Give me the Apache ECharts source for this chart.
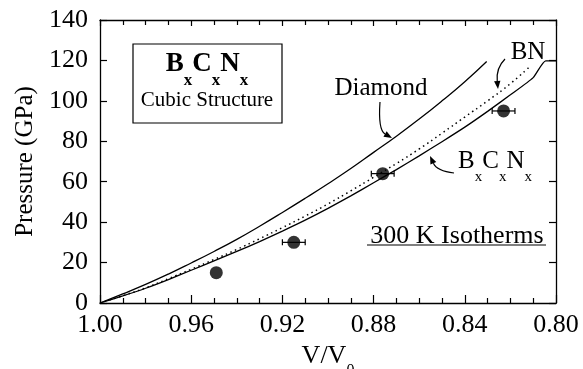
<!DOCTYPE html>
<html>
<head>
<meta charset="utf-8">
<script src="https://cdn.jsdelivr.net/npm/echarts@6/dist/echarts.min.js"></script>
<style>
html, body { margin: 0; padding: 0; background: #fff; }
#chart { width: 583px; height: 369px; }
</style>
</head>
<body>
<div id="chart"></div>
<script>
// 300 K isotherms, pressure vs V/V0
var diamond_v = [1.00, 0.99, 0.98, 0.97, 0.96, 0.95, 0.94, 0.93, 0.92, 0.91, 0.90, 0.89, 0.88, 0.87, 0.86, 0.85, 0.84, 0.8304];
var diamond_p = [0, 4.5, 9.2, 14.3, 19.8, 25.5, 31.5, 38, 44.8, 51.8, 59, 66.5, 74.5, 82.5, 91, 100, 109.5, 119.5];

var bn_v = [1.00, 0.99, 0.98, 0.97, 0.96, 0.95, 0.94, 0.93, 0.92, 0.91, 0.90, 0.89, 0.88, 0.87, 0.86, 0.85, 0.84, 0.83, 0.82, 0.811];
var bn_p = [0, 3.6, 7.5, 12, 16.7, 21.5, 26.5, 31.8, 37.3, 43, 49, 55.5, 62.2, 69, 76.2, 84, 92, 100, 108.5, 117.5];

var bcn_v = [1.00, 0.99, 0.98, 0.97, 0.96, 0.95, 0.94, 0.93, 0.92, 0.91, 0.90, 0.89, 0.88, 0.87, 0.86, 0.85, 0.84, 0.83, 0.82, 0.81, 0.8045, 0.80];
var bcn_p = [0, 3.5, 7.3, 11.6, 16.2, 20.8, 25.5, 30.4, 35.6, 41, 46.8, 53, 59.5, 66, 72.8, 79.8, 87, 94.8, 103, 111.5, 119.8, 119.8];

// measured points (V/V0, P, horizontal error)
var exp_v = [0.949, 0.915, 0.876, 0.823];
var exp_p = [15, 30, 64, 95];
var exp_err = [0, 0.005, 0.005, 0.005];

var font = '"Liberation Serif", "DejaVu Serif", serif';

function pairs(xs, ys) {
    return xs.map(function (x, i) { return [x, ys[i]]; });
}

function curveArrow(p0, c, p1) {
    var dx = p1[0] - c[0], dy = p1[1] - c[1];
    var L = Math.sqrt(dx * dx + dy * dy);
    var ux = dx / L, uy = dy / L;
    var hl = 8, hw = 3.2;
    var base = [p1[0] - ux * hl, p1[1] - uy * hl];
    return [
        {
            type: 'bezierCurve',
            shape: { x1: p0[0], y1: p0[1], cpx1: c[0], cpy1: c[1], x2: base[0], y2: base[1] },
            style: { stroke: '#000', fill: null, lineWidth: 1.2 }
        },
        {
            type: 'polygon',
            shape: { points: [p1, [base[0] - uy * hw, base[1] + ux * hw], [base[0] + uy * hw, base[1] - ux * hw]] },
            style: { fill: '#000' }
        }
    ];
}

var chart = echarts.init(document.getElementById('chart'));

var axisCommon = {
    axisLine: { show: true, onZero: false, lineStyle: { color: '#000', width: 1.3 } },
    splitLine: { show: false }
};

var option = {
    backgroundColor: '#fff',
    animation: false,
    grid: { left: 100, right: 27, top: 20, bottom: 66, outerBoundsMode: 'none' },
    xAxis: [
        Object.assign({
            type: 'value', min: 0.80, max: 1.00, interval: 0.04, inverse: true, position: 'bottom',
            name: '{n|V/V}{s|0}', nameLocation: 'middle', nameGap: 34,
            nameTextStyle: {
                rich: {
                    n: { fontFamily: font, fontSize: 26, color: '#000', lineHeight: 28, verticalAlign: 'top' },
                    s: { fontFamily: font, fontSize: 16, color: '#000', lineHeight: 14, padding: [20, 0, 0, 0], verticalAlign: 'top' }
                }
            },
            axisTick: { inside: true, length: 8, lineStyle: { color: '#000', width: 1.2 } },
            minorTick: { show: true, splitNumber: 4, length: 5, lineStyle: { color: '#000', width: 1.2 } },
            axisLabel: {
                margin: 9, fontFamily: font, fontSize: 26, color: '#000',
                formatter: function (v) { return v.toFixed(2); }
            }
        }, axisCommon),
        Object.assign({
            type: 'value', min: 0.80, max: 1.00, interval: 0.04, inverse: true, position: 'top',
            axisTick: { inside: true, length: 6, lineStyle: { color: '#000', width: 1.2 } },
            minorTick: { show: true, splitNumber: 4, length: 5, lineStyle: { color: '#000', width: 1.2 } },
            axisLabel: { show: false }
        }, axisCommon)
    ],
    yAxis: [
        Object.assign({
            type: 'value', min: 0, max: 140, interval: 20, position: 'left',
            name: 'Pressure (GPa)', nameLocation: 'middle', nameGap: 62,
            nameTextStyle: { fontFamily: font, fontSize: 25, color: '#000' },
            axisTick: { inside: true, length: 7, lineStyle: { color: '#000', width: 1.2 } },
            axisLabel: { margin: 12, fontFamily: font, fontSize: 26, color: '#000' }
        }, axisCommon),
        Object.assign({
            type: 'value', min: 0, max: 140, interval: 20, position: 'right',
            axisTick: { inside: true, length: 7, lineStyle: { color: '#000', width: 1.2 } },
            axisLabel: { show: false }
        }, axisCommon)
    ],
    series: [
        {
            name: 'Diamond', type: 'line', data: pairs(diamond_v, diamond_p),
            smooth: true, showSymbol: false, lineStyle: { color: '#000', width: 1.3 }
        },
        {
            name: 'BN', type: 'line', data: pairs(bn_v, bn_p),
            smooth: true, showSymbol: false, lineStyle: { color: '#000', width: 1.5, type: [1.5, 3.5] }
        },
        {
            name: 'BxCxNx', type: 'line', data: pairs(bcn_v, bcn_p),
            smooth: 0.2, showSymbol: false, lineStyle: { color: '#000', width: 1.3 }
        },
        {
            name: 'err', type: 'custom',
            data: exp_v.map(function (v, i) { return [v, exp_p[i], exp_err[i]]; }),
            renderItem: function (params, api) {
                var v = api.value(0), p = api.value(1), e = api.value(2);
                if (!e) return null;
                var a = api.coord([v - e, p]), b = api.coord([v + e, p]);
                var st = { stroke: '#000', lineWidth: 1.2 };
                return {
                    type: 'group',
                    children: [
                        { type: 'line', shape: { x1: a[0], y1: a[1], x2: b[0], y2: b[1] }, style: st },
                        { type: 'line', shape: { x1: a[0], y1: a[1] - 3, x2: a[0], y2: a[1] + 3 }, style: st },
                        { type: 'line', shape: { x1: b[0], y1: b[1] - 3, x2: b[0], y2: b[1] + 3 }, style: st }
                    ]
                };
            },
            z: 3
        },
        {
            name: 'Data', type: 'scatter', data: pairs(exp_v, exp_p),
            symbol: 'circle', symbolSize: 13, itemStyle: { color: '#000' }, z: 4
        }
    ],
    graphic: [
        {
            type: 'rect', shape: { x: 133, y: 44, width: 149, height: 79 },
            style: { fill: '#fff', stroke: '#000', lineWidth: 1.2 }
        },
        {
            type: 'text', x: 207, y: 46,
            style: {
                text: '{b|B}{s|x}{b|C}{s|x}{b|N}{s|x}', textAlign: 'center', textVerticalAlign: 'top',
                rich: {
                    b: { fontFamily: font, fontSize: 27, fontWeight: 'bold', fill: '#000', lineHeight: 30, padding: [5, 0, 0, 0], verticalAlign: 'top' },
                    s: { fontFamily: font, fontSize: 17, fontWeight: 'bold', fill: '#000', lineHeight: 14, padding: [26, 0, 0, 0], verticalAlign: 'top' }
                }
            }
        },
        {
            type: 'text', x: 207, y: 100,
            style: { text: 'Cubic Structure', fontFamily: font, fontSize: 21, fill: '#000', textAlign: 'center', textVerticalAlign: 'middle' }
        },
        {
            type: 'text', x: 381, y: 88,
            style: { text: 'Diamond', fontFamily: font, fontSize: 25, fill: '#000', textAlign: 'center', textVerticalAlign: 'middle' }
        },
        {
            type: 'text', x: 528, y: 52,
            style: { text: 'BN', fontFamily: font, fontSize: 25, fill: '#000', textAlign: 'center', textVerticalAlign: 'middle' }
        },
        {
            type: 'text', x: 495, y: 149,
            style: {
                text: '{b|B}{s|x}{b|C}{s|x}{b|N}{s|x}', textAlign: 'center', textVerticalAlign: 'top',
                rich: {
                    b: { fontFamily: font, fontSize: 25, fill: '#000', lineHeight: 26, verticalAlign: 'top' },
                    s: { fontFamily: font, fontSize: 15, fill: '#000', lineHeight: 12, padding: [21, 0, 0, 0], verticalAlign: 'top' }
                }
            }
        },
        {
            type: 'text', x: 457, y: 236,
            style: { text: '300 K Isotherms', fontFamily: font, fontSize: 26, fill: '#000', textAlign: 'center', textVerticalAlign: 'middle' }
        },
        {
            type: 'line', shape: { x1: 367, y1: 245, x2: 546, y2: 245 },
            style: { stroke: '#000', lineWidth: 1.2 }
        }
    ].concat(
        curveArrow([380, 102], [378, 130], [392, 138]),
        curveArrow([505, 59], [496, 68], [498, 89]),
        curveArrow([454, 173], [437, 171], [430, 156])
    )
};

chart.setOption(option);
</script>
</body>
</html>
